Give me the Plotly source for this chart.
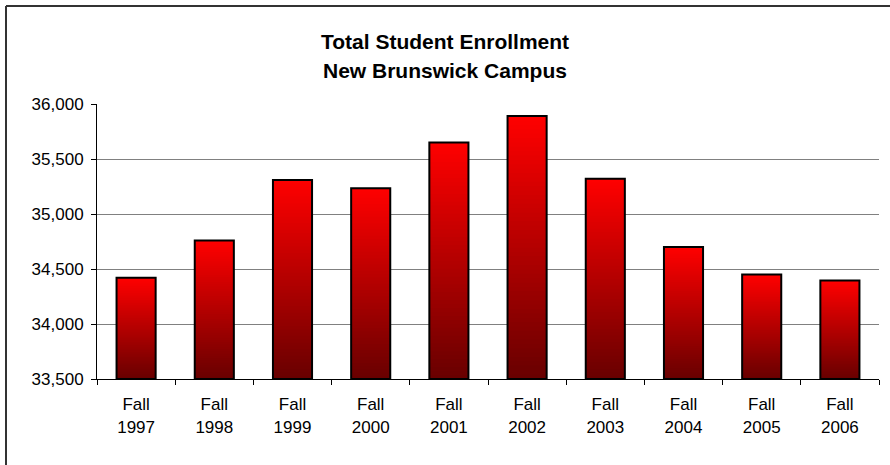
import plotly.graph_objects as go

# Enrollment by fall term
years = ["Fall<br>1997", "Fall<br>1998", "Fall<br>1999", "Fall<br>2000", "Fall<br>2001",
         "Fall<br>2002", "Fall<br>2003", "Fall<br>2004", "Fall<br>2005", "Fall<br>2006"]
enrollment = [34420, 34760, 35310, 35235, 35650, 35890, 35320, 34700, 34450, 34395]

y_min, y_max, y_step = 33500, 36000, 500
y_ticks = list(range(y_min, y_max + 1, y_step))

W, H = 890, 465
ML, MR, MT, MB = 97, 11, 104, 86
FONT = "Liberation Sans, Arial, sans-serif"

fig = go.Figure()

# Vertical gradient inside each bar: layered fills, each starting a little higher
# and a little brighter, so the bar runs from dark red at the base to red at the top
n_slices = 60
top_rgb = (255, 0, 0)
bottom_rgb = (104, 0, 0)
for i in range(n_slices):
    t = (i + 0.5) / n_slices
    rgb = tuple(round(b + (tp - b) * t) for b, tp in zip(bottom_rgb, top_rgb))
    bases = [y_min + (v - y_min) * i / n_slices for v in enrollment]
    fig.add_trace(go.Bar(
        x=years, y=[v - b for v, b in zip(enrollment, bases)], base=bases,
        width=0.5, marker=dict(color="rgb(%d,%d,%d)" % rgb, line=dict(width=0)),
        hoverinfo="skip", showlegend=False,
    ))

# Black outline of each bar
fig.add_trace(go.Bar(
    x=years, y=[v - y_min for v in enrollment], base=[y_min] * len(enrollment),
    width=0.5, marker=dict(color="rgba(0,0,0,0)", line=dict(color="black", width=2)),
    showlegend=False,
))

fig.update_layout(
    width=W, height=H, barmode="overlay",
    margin=dict(l=ML, r=MR, t=MT, b=MB),
    paper_bgcolor="white", plot_bgcolor="white",
    font=dict(family=FONT, color="black", size=17),
    xaxis=dict(
        type="category", tickson="boundaries", ticks="outside", ticklen=5,
        tickcolor="black", showline=True, linecolor="black", linewidth=1,
        showgrid=False, tickfont=dict(size=17), range=[-0.5, len(years) - 0.5],
        ticklabelstandoff=10,
    ),
    yaxis=dict(
        range=[y_min, y_max], tickvals=y_ticks, tickformat=",", ticks="outside",
        ticklen=5, tickcolor="black", showline=True, linecolor="black", linewidth=1,
        showgrid=True, gridcolor="#808080", gridwidth=1, tickfont=dict(size=17),
        zeroline=False, ticklabelstandoff=4,
    ),
    annotations=[
        dict(text="<b>Total Student Enrollment</b>", x=(W / 2 - ML) / (W - ML - MR),
             y=(H - MB - 41) / (H - MT - MB), xref="paper", yref="paper",
             showarrow=False, font=dict(size=21), xanchor="center", yanchor="middle"),
        dict(text="<b>New Brunswick Campus</b>", x=(W / 2 - ML) / (W - ML - MR),
             y=(H - MB - 70) / (H - MT - MB), xref="paper", yref="paper",
             showarrow=False, font=dict(size=21), xanchor="center", yanchor="middle"),
    ],
)

# Frame lines along the top and left edges of the chart area
pw, ph = W - ML - MR, H - MT - MB
fx = lambda px: (px - ML) / pw
fy = lambda py: (H - MB - py) / ph
fig.add_shape(type="line", xref="paper", yref="paper", x0=fx(6), x1=fx(W + 5),
              y0=fy(6), y1=fy(6), line=dict(color="#333333", width=2))
fig.add_shape(type="line", xref="paper", yref="paper", x0=fx(6), x1=fx(6),
              y0=fy(6), y1=fy(H + 5), line=dict(color="#333333", width=2))

fig.write_html("out.html")
